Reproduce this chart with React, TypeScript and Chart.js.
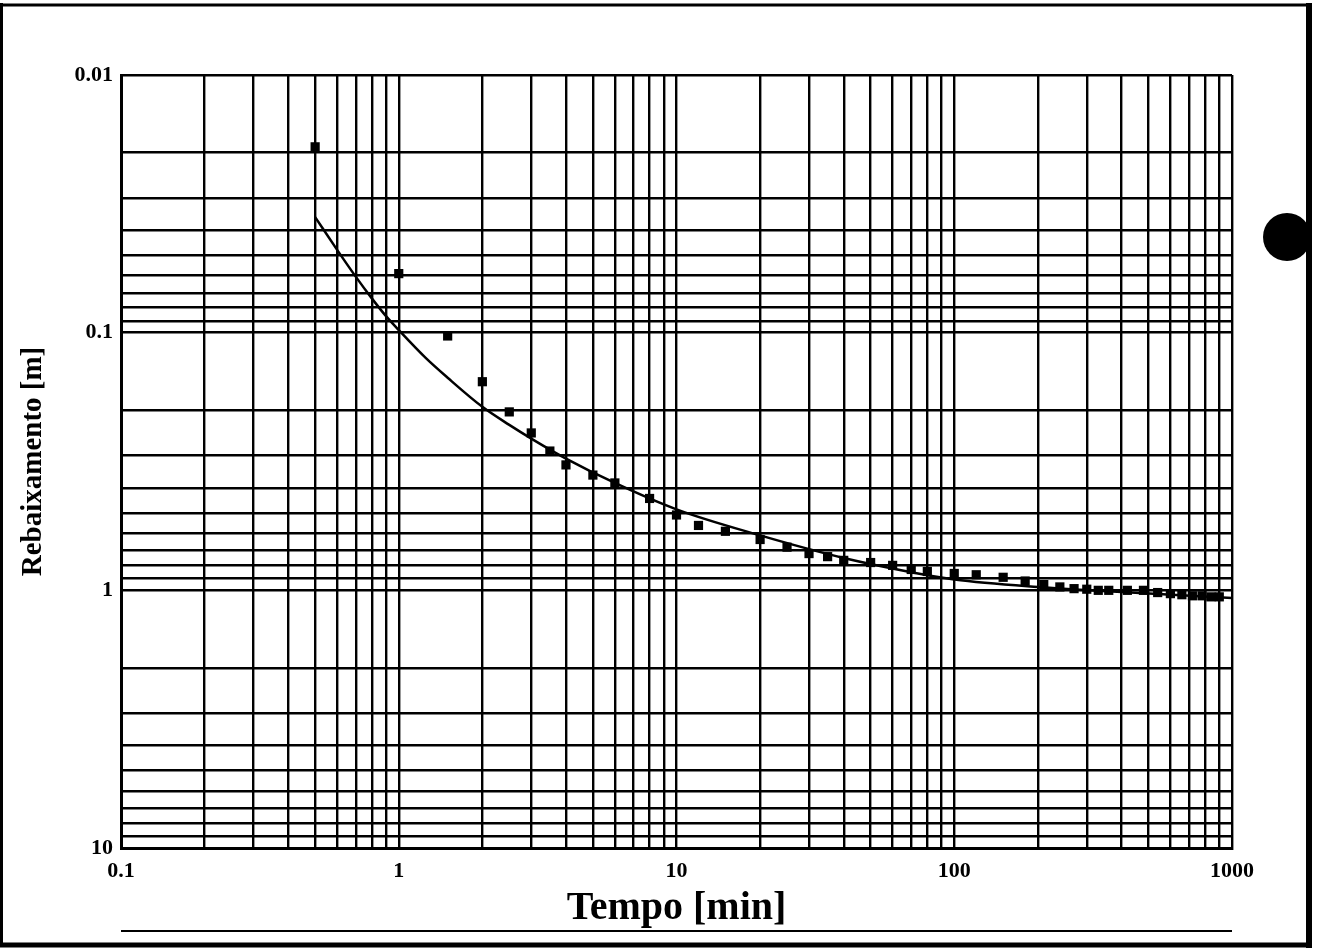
import React, { useEffect, useRef } from "react";
import { Chart, registerables } from "chart.js";

Chart.register(...registerables);

// Observed drawdown (Rebaixamento) versus time (Tempo)
const tempoObs = [0.5, 1, 1.5, 2, 2.5, 3, 3.5, 4, 5, 6, 8, 10, 12, 15, 20, 25, 30, 35, 40, 50, 60, 70, 80, 100, 120, 150, 180, 210, 240, 270, 300, 330, 360, 420, 480, 540, 600, 660, 720, 780, 840, 900];
const rebaixObs = [0.019, 0.059, 0.103, 0.155, 0.203, 0.245, 0.288, 0.326, 0.357, 0.383, 0.44, 0.51, 0.56, 0.59, 0.635, 0.68, 0.72, 0.74, 0.765, 0.78, 0.8, 0.83, 0.845, 0.86, 0.87, 0.89, 0.92, 0.95, 0.97, 0.985, 0.99, 1.0, 1.0, 1.0, 1.0, 1.02, 1.03, 1.04, 1.05, 1.05, 1.06, 1.06];

// Fitted type curve
const tempoCurve = [0.5, 0.6, 0.7, 0.8, 0.9, 1, 1.25, 1.5, 2, 2.5, 3, 4, 6, 10, 20, 40, 70, 100, 200, 400, 1000];
const rebaixCurve = [0.0356, 0.0477, 0.0606, 0.0736, 0.0863, 0.0977, 0.1253, 0.1496, 0.194, 0.228, 0.2576, 0.308, 0.383, 0.485, 0.612, 0.749, 0.85, 0.907, 0.97, 1.014, 1.07];

// Axis ticks
const xDecades = [0.1, 1, 10, 100];
const xMax = 1000;
const yDecades = [0.01, 0.1, 1];
const yMax = 10;
const decadeSteps = [1, 2, 3, 4, 5, 6, 7, 8, 9];
const xTickLabels = [0.1, 1, 10, 100, 1000];
const yTickLabels = [0.01, 0.1, 1, 10];

const buildGrid = (decades: number[], last: number) => {
  const out: number[] = [];
  decades.forEach((d) => decadeSteps.forEach((m) => out.push(parseFloat((d * m).toPrecision(6)))));
  out.push(last);
  return out;
};
const xGridTicks = buildGrid(xDecades, xMax);
const yGridTicks = buildGrid(yDecades, yMax);

const labelFor = (labels: number[]) => (value: number | string) => {
  const v = Number(value);
  const hit = labels.find((l) => Math.abs(Math.log10(v) - Math.log10(l)) < 1e-6);
  return hit === undefined ? "" : String(hit);
};

const FONT = "'Liberation Serif', 'Times New Roman', serif";

const decorations = {
  id: "pageDecorations",
  afterDraw(chart: any) {
    const ctx = chart.ctx;
    const area = chart.chartArea;
    ctx.save();
    ctx.strokeStyle = "#000";
    ctx.fillStyle = "#000";
    // page frame
    ctx.lineWidth = 3;
    ctx.beginPath();
    ctx.moveTo(1.5, 3);
    ctx.lineTo(1.5, 947);
    ctx.moveTo(0, 5);
    ctx.lineTo(1312, 5);
    ctx.stroke();
    ctx.lineWidth = 6;
    ctx.beginPath();
    ctx.moveTo(1309, 3);
    ctx.lineTo(1309, 948);
    ctx.stroke();
    ctx.lineWidth = 5;
    ctx.beginPath();
    ctx.moveTo(0, 945);
    ctx.lineTo(1312, 945);
    ctx.stroke();
    // rule under the x title
    ctx.lineWidth = 2;
    ctx.beginPath();
    ctx.moveTo(area.left, 931);
    ctx.lineTo(area.right, 931);
    ctx.stroke();
    // punch hole
    ctx.beginPath();
    ctx.arc(1287, 237, 24, 0, Math.PI * 2);
    ctx.fill();
    ctx.restore();
  },
};

export default function App() {
  const ref = useRef<HTMLCanvasElement | null>(null);

  useEffect(() => {
    if (!ref.current) return;
    const chart = new Chart(ref.current, {
      type: "scatter",
      data: {
        datasets: [
          {
            label: "Ajuste",
            data: tempoCurve.map((t, i) => ({ x: t, y: rebaixCurve[i] })),
            showLine: true,
            borderColor: "#000",
            borderWidth: 2.5,
            pointRadius: 0,
            cubicInterpolationMode: "monotone",
            fill: false,
            order: 2,
          } as any,
          {
            label: "Observado",
            data: tempoObs.map((t, i) => ({ x: t, y: rebaixObs[i] })),
            showLine: false,
            pointStyle: "rect",
            pointRadius: 6.5,
            backgroundColor: "#000",
            borderColor: "#000",
            borderWidth: 0,
            order: 1,
          } as any,
        ],
      },
      options: {
        responsive: false,
        animation: false,
        events: [],
        layout: { padding: { left: 0, top: 75, right: 89, bottom: 0 } },
        plugins: {
          legend: { display: false },
          tooltip: { enabled: false },
        },
        scales: {
          x: {
            type: "logarithmic",
            min: 0.1,
            max: xMax,
            afterBuildTicks: (scale: any) => {
              scale.ticks = xGridTicks.map((v) => ({ value: v }));
            },
            afterFit: (scale: any) => {
              scale.height = 102;
            },
            grid: { color: "#000", lineWidth: 2.4, drawTicks: false },
            border: { display: true, color: "#000", width: 3 },
            ticks: {
              autoSkip: false,
              maxRotation: 0,
              padding: 10,
              color: "#000",
              font: { family: FONT, size: 22, weight: "bold" },
              callback: labelFor(xTickLabels),
            },
            title: {
              display: true,
              text: "Tempo [min]",
              color: "#000",
              font: { family: FONT, size: 40, weight: "bold", lineHeight: 1.2 },
              padding: { top: 0, bottom: 17 },
            },
          },
          y: {
            type: "logarithmic",
            reverse: true,
            min: 0.01,
            max: yMax,
            afterBuildTicks: (scale: any) => {
              scale.ticks = yGridTicks.map((v) => ({ value: v }));
            },
            afterFit: (scale: any) => {
              scale.width = 121;
            },
            grid: { color: "#000", lineWidth: 2.4, drawTicks: false },
            border: { display: true, color: "#000", width: 3 },
            ticks: {
              autoSkip: false,
              padding: 8,
              color: "#000",
              font: { family: FONT, size: 22, weight: "bold" },
              callback: labelFor(yTickLabels),
            },
            title: {
              display: true,
              text: "Rebaixamento [m]",
              color: "#000",
              font: { family: FONT, size: 29, weight: "bold", lineHeight: 1.2 },
              padding: { top: 16, bottom: 0 },
            },
          },
        },
      } as any,
      plugins: [decorations],
    });
    return () => chart.destroy();
  }, []);

  return (
    <div style={{ position: "absolute", left: 0, top: 0, width: 1321, height: 950, background: "#fff" }}>
      <canvas ref={ref} width={1321} height={950} />
    </div>
  );
}
